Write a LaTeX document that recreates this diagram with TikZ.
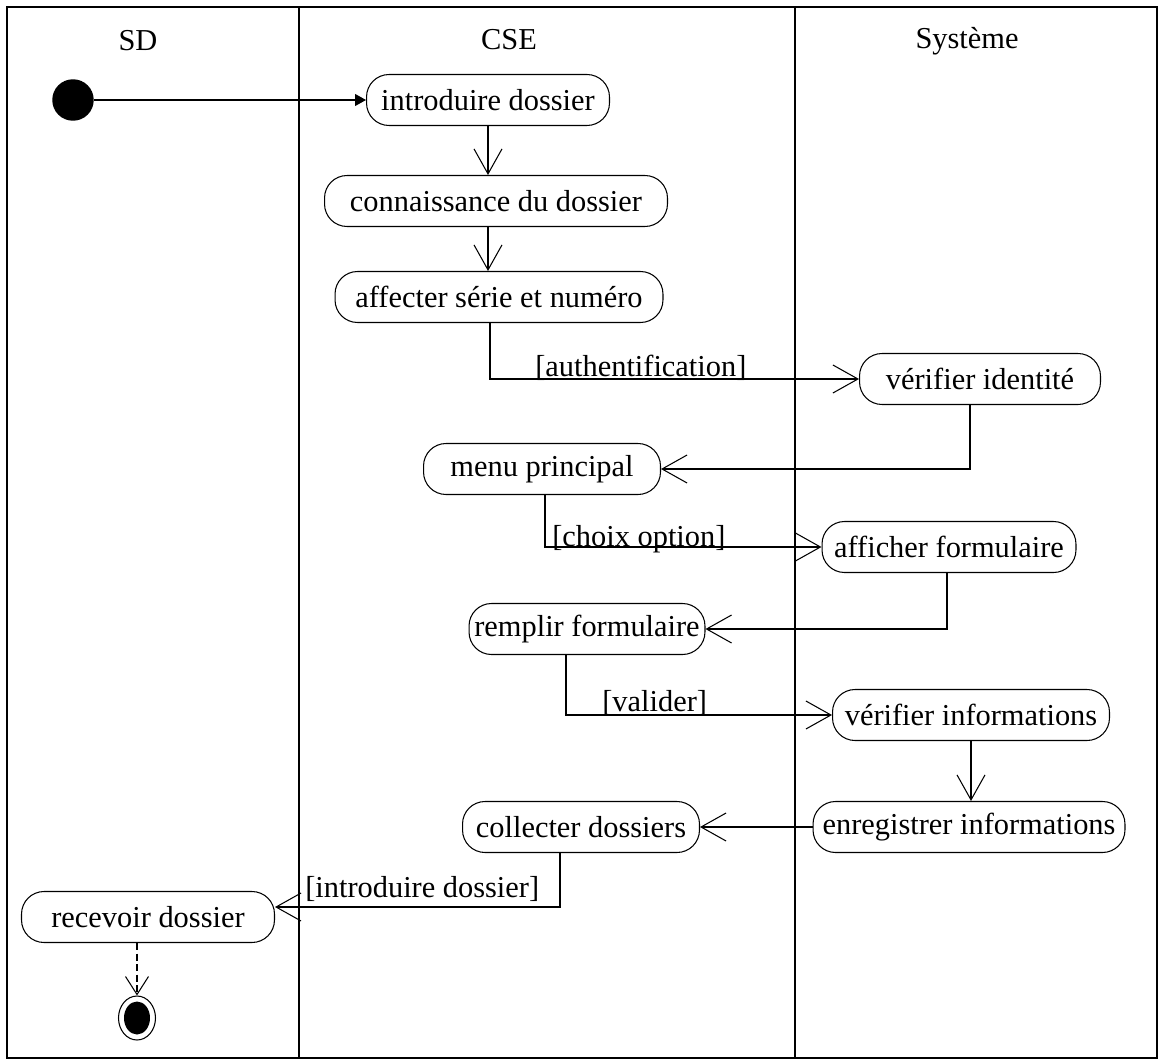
\documentclass[tikz,border=0pt]{standalone}
\usepackage{fontspec}
\setmainfont{Liberation Serif}
\usetikzlibrary{arrows.meta,shapes.geometric}
\tikzset{
  anode/.style={rectangle,draw,line width=0.6pt,rounded corners=0.45cm,minimum height=1.02cm,inner sep=0pt,font=\fontsize{17.3}{20}\selectfont},
  inode/.style={circle,fill,minimum size=0.83cm,inner sep=0pt},
  fnode/.style={ellipse,draw,line width=0.6pt,minimum width=0.74cm,minimum height=0.88cm,inner sep=0pt},
  lnode/.style={font=\fontsize{17.3}{20}\selectfont,anchor=base},
  gnode/.style={font=\fontsize{17.3}{20}\selectfont,anchor=base west,inner sep=0pt},
  ce/.style={-{Straight Barb[length=0.5cm,width=0.56cm]},line width=0.6pt},
  dce/.style={-{Straight Barb[length=0.36cm,width=0.46cm]},line width=0.6pt,dash pattern=on 4pt off 2pt},
  te/.style={-{Triangle[length=0.22cm,width=0.24cm]},line width=0.6pt}
}
\begin{document}
\begin{tikzpicture}[x=0.02cm,y=-0.02cm]
\useasboundingbox (0,0) rectangle (1159,1064);
\draw[line width=0.6pt] (7,7) rectangle (1157,1058);
\draw[line width=0.6pt] (299,7) -- (299,1058);
\draw[line width=0.6pt] (795,7) -- (795,1058);
\node[lnode] (tsd)  at (138,51) {SD};
\node[lnode] (tcse) at (509,50) {CSE};
\node[lnode] (tsys) at (967,49) {Système};
\node[inode] (start) at (73,100) {};
\node[anode,minimum width=4.86cm] (intro)  at (488,100) {introduire dossier};
\node[anode,minimum width=6.86cm] (conn)   at (496,201) {connaissance du dossier};
\node[anode,minimum width=6.56cm] (aff)    at (499,297) {affecter série et numéro};
\node[anode,minimum width=4.82cm] (verid)  at (980,379) {vérifier identité};
\node[anode,minimum width=4.74cm] (menu)   at (542,469) {menu principal};
\node[anode,minimum width=5.08cm] (affich) at (949,547) {afficher formulaire};
\node[anode,minimum width=4.72cm] (rempl)  at (587,629) {remplir formulaire};
\node[anode,minimum width=5.54cm] (verinf) at (971,715) {vérifier informations};
\node[anode,minimum width=6.24cm] (enreg)  at (969,827) {enregistrer informations};
\node[anode,minimum width=4.74cm] (coll)   at (581,827) {collecter dossiers};
\node[anode,minimum width=5.06cm] (recv)   at (148,917) {recevoir dossier};
\node[fnode] (fin) at (137,1018) {};
\fill (fin.center) ellipse [x radius=0.26cm, y radius=0.33cm];
\node[gnode] (gauth)  at (535,376) {[authentification]};
\node[gnode] (gchoix) at (552,546) {[choix option]};
\node[gnode] (gval)   at (602,711) {[valider]};
\node[gnode] (gintro) at (305,897) {[introduire dossier]};
\draw[te] (start) -- (intro);
\draw[ce] (intro) -- (intro |- conn.north);
\draw[ce] (conn.south -| intro) -- (aff.north -| intro);
\draw[ce] ([xshift=-0.18cm]aff.south) |- (verid);
\draw[ce] ([xshift=-0.2cm]verid.south) |- (menu);
\draw[ce] ([xshift=0.06cm]menu.south) |- (affich);
\draw[ce] ([xshift=-0.04cm]affich.south) |- (rempl);
\draw[ce] ([xshift=-0.42cm]rempl.south) |- (verinf);
\draw[ce] (verinf) -- (verinf |- enreg.north);
\draw[ce] (enreg) -- (coll);
\draw[ce] ([xshift=-0.42cm]coll.south) |- ([yshift=0.2cm]recv.east);
\draw[dce] (recv.south -| fin) -- (fin);
\end{tikzpicture}
\end{document}
